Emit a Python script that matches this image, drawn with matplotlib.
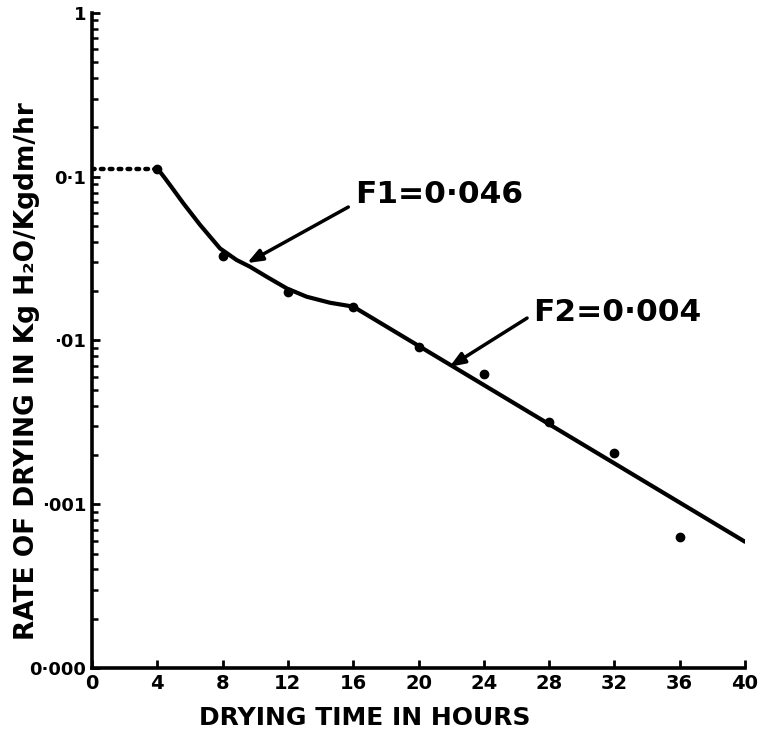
import matplotlib.pyplot as plt
from matplotlib.ticker import LogLocator, NullFormatter

# measured points
hours = [4, 8, 12, 16, 20, 24, 28, 32, 36]
rate = [0.112, 0.0328, 0.0199, 0.0161, 0.0091, 0.0062, 0.0032, 0.00206, 0.00063]

# constant rate period (dotted)
const_x = [0, 4]
const_y = [0.112, 0.112]

# falling rate curve
curve_x = [4.0, 4.5, 5.0, 5.59, 6.62, 7.84, 8.86, 9.68, 10.7, 11.93, 13.15, 14.58, 16.0]
curve_y = [0.1126, 0.097, 0.083, 0.0689, 0.0508, 0.0365, 0.031, 0.0282, 0.0245, 0.0208, 0.0185, 0.017, 0.0161]

# second falling rate straight line
line_x = [16, 40]
line_y = [0.0161, 0.00059]

xticks = [0, 4, 8, 12, 16, 20, 24, 28, 32, 36, 40]
yticks = [0.0001, 0.001, 0.01, 0.1, 1]
ylabels = ['0·000', '·001', '·01', '0·1', '1']

fig = plt.figure(figsize=(7.63, 7.33), dpi=100)
ax = fig.add_axes([0.1206, 0.0887, 0.8558, 0.8936])

ax.plot(const_x, const_y, color='black', linestyle=(0, (0.6, 1.4)), linewidth=3.2,
        dash_capstyle='round')
ax.plot(curve_x, curve_y, color='black', linewidth=3, solid_capstyle='round',
        solid_joinstyle='round')
ax.plot(line_x, line_y, color='black', linewidth=3, solid_capstyle='round')
ax.plot(hours, rate, 'o', color='black', markersize=6)

ax.set_yscale('log')
ax.set_xlim(0, 40)
ax.set_ylim(0.0001, 1)

for s in ['top', 'right']:
    ax.spines[s].set_visible(False)
for s in ['left', 'bottom']:
    ax.spines[s].set_linewidth(2.6)

ax.set_xticks(xticks)
ax.set_xticklabels([str(t) for t in xticks], fontsize=14, fontweight='bold')
ax.set_yticks(yticks)
ax.set_yticklabels(ylabels, fontsize=13, fontweight='bold')
ax.yaxis.set_minor_locator(LogLocator(base=10, subs=range(2, 10)))
ax.yaxis.set_minor_formatter(NullFormatter())
ax.tick_params(axis='both', which='major', direction='in', length=6, width=2, pad=4)
ax.tick_params(axis='y', which='minor', direction='in', length=4, width=1.8)

ax.set_xlabel('DRYING TIME IN HOURS', fontsize=18, fontweight='bold')
ax.xaxis.set_label_coords(0.418, -0.058)
ax.set_ylabel('RATE OF DRYING IN Kg H₂O/Kgdm/hr', fontsize=19, fontweight='bold')
ax.yaxis.set_label_coords(-0.08, 0.453)

arrow = dict(arrowstyle='-|>,head_length=0.9,head_width=0.35', color='black', lw=2.5,
             shrinkA=0, shrinkB=0)
ax.annotate('', xy=(9.5, 0.0297), xytext=(15.7, 0.0653), arrowprops=arrow)
ax.text(16.1, 0.0774, 'F1=0·046', fontsize=22.5, fontweight='bold', va='center', ha='left')
ax.annotate('', xy=(21.9, 0.0069), xytext=(26.65, 0.0137), arrowprops=arrow)
ax.text(27.0, 0.0149, 'F2=0·004', fontsize=22.5, fontweight='bold', va='center', ha='left')

fig.savefig('out.png', dpi=100)
